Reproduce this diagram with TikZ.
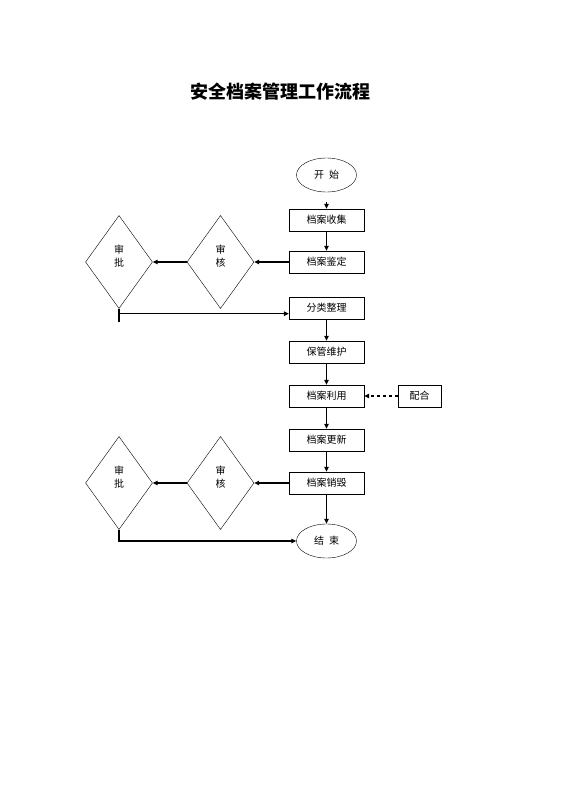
\documentclass[tikz,border=0pt]{standalone}
\usepackage{fontspec}
\newfontfamily\cjk{Noto Sans CJK SC}
\usetikzlibrary{arrows.meta, shapes.geometric, positioning, calc, shadows}

\tikzset{
  procbox/.style={draw, thin, fill=white, minimum width=75pt, minimum height=22pt, inner sep=0pt,
    drop shadow={shadow xshift=0.7pt, shadow yshift=-0.7pt, fill=black!60, opacity=1}},
  terminal/.style={draw, thin, ellipse, minimum width=60pt, minimum height=34pt, inner sep=0pt},
  decision/.style={draw, thin, diamond, minimum width=67pt, minimum height=93pt, inner sep=0pt},
  flow/.style={-{Triangle[length=5pt,width=4.5pt]}, line width=1.3pt},
}

\begin{document}
\begin{tikzpicture}[x=1pt, y=-1pt, font=\cjk\fontsize{10}{12.5}\selectfont]
\useasboundingbox (0,0) rectangle (560,792);

% Title
\node (title) at (280,92) {\cjk\bfseries\fontsize{18}{20}\selectfont 安全档案管理工作流程};

% Main column
\node[terminal] (start) at (326.5,175) {开\enspace 始};
\node[procbox] (shouji) at (326.5,220) {档案收集};
\node[procbox] (jianding) at (326.5,262) {档案鉴定};
\node[procbox] (fenlei) at (326.5,308) {分类整理};
\node[procbox] (baoguan) at (326.5,352) {保管维护};
\node[procbox] (liyong) at (326.5,396) {档案利用};
\node[procbox] (gengxin) at (326.5,440) {档案更新};
\node[procbox] (xiaohui) at (326.5,483) {档案销毁};
\node[terminal] (end) at (326.5,541) {结\enspace 束};

% Side box
\node[procbox, minimum width=43pt] (peihe) at (419.5,396) {配合};

% Review and approval, upper
\node[decision, label={[align=center, yshift=6pt]center:审\\核}] (shenhe1) at (220.5,262) {};
\node[decision, label={[align=center, yshift=6pt]center:审\\批}] (shenpi1) at (119,262) {};

% Review and approval, lower
\node[decision, label={[align=center, yshift=6pt]center:审\\核}] (shenhe2) at (220.5,483) {};
\node[decision, label={[align=center, yshift=6pt]center:审\\批}] (shenpi2) at (119,483) {};

% Main flow
\draw[flow, shorten <=10pt] (start) -- (shouji);
\draw[flow] (shouji) -- (jianding);
\draw[flow] (fenlei) -- (baoguan);
\draw[flow] (baoguan) -- (liyong);
\draw[flow] (liyong) -- (gengxin);
\draw[flow] (gengxin) -- (xiaohui);
\draw[flow] (xiaohui) -- (end);
\draw[flow, dashed, line width=1.1pt] (peihe) -- (liyong);

% Upper branch
\draw[flow] (jianding.west) -- (shenhe1.east);
\draw[flow] (shenhe1.west) -- (shenpi1.east);
\draw[line width=1.3pt] (shenpi1.south) -- ++(0,13);
\coordinate (turn1) at ($(shenpi1.south)+(0,5)$);
\draw[flow] (turn1) -- (turn1 -| fenlei.west);

% Lower branch
\draw[flow] (xiaohui.west) -- (shenhe2.east);
\draw[flow] (shenhe2.west) -- (shenpi2.east);
\draw[flow] (shenpi2.south) |- (end.west);
\end{tikzpicture}
\end{document}
